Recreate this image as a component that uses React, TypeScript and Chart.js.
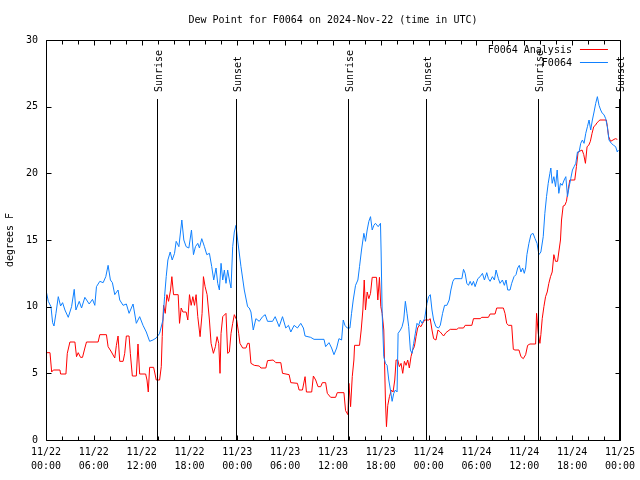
import React, { useEffect, useRef } from "react";
import { Chart, registerables } from "chart.js";

Chart.register(...registerables);

const TITLE = "Dew Point for F0064 on 2024-Nov-22 (time in UTC)";
const Y_TITLE = "degrees F";
const SERIES_NAMES = ["F0064 Analysis", "F0064"];
const SERIES_COLORS = ["#ff0000", "#0f80ff"];

const DATE_LABELS = ["11/22", "11/22", "11/22", "11/22", "11/23", "11/23", "11/23", "11/23", "11/24", "11/24", "11/24", "11/24", "11/25"];
const TIME_LABELS = ["00:00", "06:00", "12:00", "18:00", "00:00", "06:00", "12:00", "18:00", "00:00", "06:00", "12:00", "18:00", "00:00"];

const SUN_HOURS = [13.9, 23.83, 37.9, 47.7, 61.75, 71.83];
const SUN_LABELS = ["Sunrise", "Sunset", "Sunrise", "Sunset", "Sunrise", "Sunset"];

// hours since 11/22 00:00 UTC
const ANALYSIS_HOURS = [
  0, 0.5, 0.71, 0.92, 1.75, 1.83, 2.5, 2.67, 3, 3.625, 3.83, 4.04, 4.33, 4.58, 4.875, 5.08, 6.54, 6.75, 7.58, 7.79,
  8.21, 8.625, 8.83, 9.04, 9.25, 9.67, 9.875, 10.08, 10.42, 10.58, 10.83, 11.33, 11.54, 11.75, 12.5, 12.67, 12.83, 13, 13.5, 13.625,
  13.83, 14.25, 14.46, 14.58, 14.75, 14.96, 15.17, 15.375, 15.625, 15.79, 16, 16.58, 16.75, 16.96, 17.17, 17.58, 17.79, 18, 18.21, 18.42,
  18.625, 18.83, 19.04, 19.33, 19.58, 19.75, 19.96, 20.21, 20.5, 20.71, 21, 21.25, 21.46, 21.67, 21.83, 21.96, 22.17, 22.58, 22.79, 23,
  23.21, 23.42, 23.625, 23.92, 24.17, 24.33, 24.67, 25.08, 25.29, 25.5, 25.71, 26.125, 26.75, 26.96, 27.58, 27.79, 28.5, 28.83, 29.46, 29.67,
  30.5, 30.71, 31.54, 31.75, 32.17, 32.5, 32.67, 33.33, 33.54, 33.83, 34.125, 34.46, 34.67, 35.08, 35.29, 35.71, 36.33, 36.54, 37.375, 37.58,
  37.875, 38, 38.21, 38.42, 38.625, 38.71, 39.33, 39.54, 39.75, 39.92, 40.08, 40.29, 40.5, 40.71, 40.92, 41.46, 41.625, 41.83, 42, 42.17,
  42.375, 42.58, 42.71, 42.875, 43.08, 43.33, 43.54, 43.75, 43.92, 44.125, 44.33, 44.54, 44.75, 44.96, 45.17, 45.375, 45.58, 45.79, 46, 46.21,
  46.42, 46.625, 46.83, 47.04, 47.25, 47.5, 48, 48.2, 48.42, 48.625, 48.92, 49.17, 49.46, 49.875, 50.17, 50.71, 51.54, 51.75, 52.375, 52.58,
  53.42, 53.625, 54.46, 54.67, 55.5, 55.71, 56.33, 56.54, 57.375, 57.58, 57.79, 58, 58.42, 58.625, 58.83, 59.33, 59.58, 59.875, 60.17, 60.42,
  60.71, 61.42, 61.54, 61.75, 61.96, 62.08, 62.25, 62.46, 62.67, 62.875, 63.08, 63.29, 63.5, 63.71, 63.92, 64.17, 64.33, 64.54, 64.67, 64.875,
  65.08, 65.29, 65.5, 65.71, 66.33, 66.54, 66.75, 67.25, 67.46, 67.67, 67.875, 68.08, 68.29, 68.5, 68.71, 68.92, 69.125, 69.33, 69.46, 70.29,
  70.42, 70.58, 70.83, 71.125, 71.42, 71.67,
];
const ANALYSIS_VALUES = [
  6.55, 6.55, 5.1, 5.25, 5.25, 4.95, 4.95, 6.5, 7.35, 7.35, 6.25, 6.55, 6.2, 6.2, 6.9, 7.35, 7.35, 7.9, 7.9, 7.0,
  6.6, 6.15, 7.1, 7.8, 5.9, 5.9, 6.5, 7.8, 7.8, 6.5, 4.8, 4.8, 7.2, 4.95, 4.95, 4.5, 3.6, 5.45, 5.45, 5.1,
  4.5, 4.5, 5.5, 7.75, 10.1, 9.5, 10.9, 10.4, 11.25, 12.25, 10.9, 10.9, 8.75, 9.9, 9.6, 9.6, 9.0, 10.9, 10.1, 10.75,
  10.1, 10.9, 9.25, 7.75, 9.5, 12.25, 11.5, 10.9, 9.0, 7.25, 6.5, 7.0, 7.75, 7.25, 5.0, 8.0, 9.25, 9.5, 6.5, 6.6,
  8.0, 8.75, 9.4, 9.0, 8.0, 7.25, 6.9, 6.9, 7.25, 7.25, 5.75, 5.6, 5.55, 5.4, 5.4, 5.95, 6.0, 5.8, 5.8, 5.0,
  4.9, 4.3, 4.25, 3.75, 3.75, 4.75, 3.6, 3.6, 4.8, 4.5, 4.0, 4.0, 4.3, 4.3, 3.5, 3.2, 3.2, 3.55, 3.55, 2.2,
  1.9, 4.25, 2.5, 4.75, 6.0, 7.1, 7.1, 8.25, 9.75, 12.0, 9.75, 11.1, 10.6, 11.0, 12.2, 12.2, 10.5, 12.2, 10.0, 9.5,
  8.25, 3.0, 1.0, 2.6, 3.25, 3.75, 3.6, 4.5, 6.0, 6.0, 5.5, 5.75, 5.0, 5.9, 5.6, 6.0, 5.4, 6.25, 6.75, 7.0,
  7.75, 8.4, 8.6, 8.5, 8.75, 9.0, 9.0, 9.1, 8.25, 7.6, 7.5, 8.25, 8.1, 7.8, 8.05, 8.3, 8.3, 8.4, 8.4, 8.6,
  8.6, 9.1, 9.1, 9.2, 9.2, 9.45, 9.45, 9.9, 9.9, 9.5, 8.75, 8.6, 8.6, 6.8, 6.75, 6.75, 6.25, 6.1, 6.4, 7.1,
  7.2, 7.2, 9.5, 8.0, 7.25, 7.9, 9.1, 10.0, 10.75, 11.1, 11.75, 12.25, 12.6, 13.9, 13.4, 13.4, 14.1, 15.0, 16.5, 17.55,
  17.6, 17.9, 18.75, 19.5, 19.5, 20.5, 21.6, 21.75, 21.4, 20.75, 22.0, 22.1, 22.4, 23.0, 23.5, 23.6, 23.8, 23.9, 24.0, 24.0,
  23.5, 22.75, 22.4, 22.5, 22.6, 22.55,
];

const OBS_HOURS = [
  0, 0.29, 0.625, 0.83, 1, 1.25, 1.54, 1.83, 2.08, 2.375, 2.79, 3.21, 3.54, 3.75, 4.17, 4.46, 4.875, 5.42, 5.83, 6.125,
  6.33, 6.75, 7.17, 7.5, 7.79, 8.08, 8.33, 8.625, 9.04, 9.25, 9.67, 10.08, 10.42, 10.92, 11.33, 11.75, 12.17, 12.58, 13, 13.42,
  13.83, 14.25, 14.67, 14.875, 15.08, 15.29, 15.58, 15.83, 16.125, 16.33, 16.67, 17.04, 17.29, 17.58, 17.92, 18.25, 18.5, 18.75, 19.04, 19.25,
  19.54, 19.875, 20.17, 20.5, 20.79, 21.04, 21.33, 21.54, 21.75, 21.96, 22.17, 22.375, 22.58, 22.79, 23, 23.21, 23.42, 23.625, 23.83, 24.04,
  24.46, 24.875, 25.29, 25.5, 25.71, 26, 26.33, 26.75, 27.17, 27.5, 27.79, 28.42, 28.75, 29.25, 29.67, 30.08, 30.42, 30.71, 31.125, 31.54,
  31.96, 32.29, 32.5, 33.2, 33.625, 34.875, 35.08, 35.5, 35.83, 36.125, 36.46, 36.75, 37.08, 37.29, 37.5, 37.79, 38.125, 38.33, 38.54, 38.83,
  39.125, 39.33, 39.58, 39.875, 40.08, 40.29, 40.5, 40.71, 40.92, 41.125, 41.33, 41.67, 41.96, 42.04, 42.17, 42.375, 42.58, 42.79, 43, 43.21,
  43.42, 43.625, 43.83, 44.04, 44.17, 44.46, 44.67, 44.875, 45.08, 45.29, 45.5, 45.71, 45.92, 46.125, 46.33, 46.54, 46.75, 46.96, 47.17, 47.5,
  47.79, 48, 48.21, 48.42, 48.625, 48.92, 49.25, 49.46, 49.75, 50, 50.29, 50.58, 50.79, 51.04, 51.25, 51.96, 52.17, 52.375, 52.58, 52.79,
  53, 53.21, 53.42, 53.625, 53.83, 54.17, 54.46, 54.75, 55, 55.29, 55.5, 55.71, 56, 56.25, 56.46, 56.75, 56.96, 57.25, 57.5, 57.71,
  57.92, 58.21, 58.42, 58.71, 58.96, 59.17, 59.375, 59.58, 59.79, 60, 60.17, 60.33, 60.58, 60.83, 61.1, 61.35, 61.6, 61.83, 62.08, 62.375,
  62.58, 62.79, 63, 63.21, 63.33, 63.5, 63.71, 63.92, 64.125, 64.33, 64.54, 64.75, 65, 65.21, 65.42, 65.625, 65.83, 66.04, 66.25, 66.46,
  66.67, 66.875, 67.08, 67.29, 67.5, 67.71, 67.92, 68.125, 68.33, 68.54, 68.75, 68.96, 69.17, 69.375, 69.58, 69.79, 70, 70.21, 70.42, 70.625,
  70.92, 71.21, 71.46, 71.67, 71.8,
];
const OBS_VALUES = [
  11.25, 10.4, 10.0, 8.8, 8.55, 9.5, 10.75, 10.05, 10.3, 9.75, 9.2, 10.0, 11.3, 9.75, 10.4, 9.9, 10.7, 10.2, 10.55, 10.1,
  11.5, 11.9, 11.8, 12.25, 13.1, 12.0, 11.8, 10.9, 11.25, 10.5, 10.1, 10.2, 9.5, 10.2, 8.75, 9.25, 8.6, 8.1, 7.4, 7.5,
  7.65, 8.0, 9.0, 10.75, 12.25, 13.5, 14.1, 13.5, 14.0, 14.9, 14.5, 16.5, 15.0, 14.5, 14.4, 15.75, 13.9, 14.5, 14.75, 14.4,
  15.1, 14.5, 13.9, 14.0, 13.0, 12.0, 12.9, 11.75, 11.25, 13.25, 12.0, 12.75, 11.75, 12.75, 12.0, 11.4, 14.5, 15.6, 16.1, 15.0,
  13.0, 11.25, 10.0, 9.9, 9.6, 8.25, 9.1, 8.9, 9.25, 9.4, 8.9, 8.9, 9.25, 8.5, 9.25, 8.4, 8.6, 8.1, 8.6, 8.4,
  8.75, 8.4, 7.8, 7.7, 7.55, 7.55, 7.0, 7.3, 6.9, 6.4, 6.9, 7.6, 7.5, 9.0, 8.6, 8.4, 8.4, 9.5, 10.5, 11.6,
  12.0, 13.0, 14.25, 15.5, 14.9, 15.75, 16.4, 16.75, 15.75, 16.1, 16.25, 16.0, 16.25, 14.1, 9.5, 6.25, 5.75, 5.6, 4.5, 3.75,
  2.9, 3.5, 3.75, 3.6, 8.0, 8.25, 8.5, 9.0, 10.4, 9.5, 8.5, 6.75, 6.5, 7.25, 8.0, 8.75, 8.6, 9.0, 8.75, 9.1,
  10.25, 10.75, 10.9, 9.75, 9.0, 8.5, 8.4, 8.6, 9.5, 10.1, 10.1, 10.5, 11.25, 11.9, 12.1, 12.1, 12.1, 12.8, 12.5, 11.75,
  11.6, 11.9, 11.6, 11.9, 11.5, 12.1, 12.25, 12.5, 12.0, 12.55, 12.1, 11.9, 12.25, 12.0, 12.75, 12.1, 11.75, 12.0, 11.6, 12.0,
  11.25, 11.25, 11.75, 12.25, 12.4, 12.9, 13.1, 12.6, 12.9, 12.5, 12.9, 13.9, 14.75, 15.4, 15.5, 15.1, 14.75, 13.9, 14.1, 15.25,
  17.0, 18.25, 19.25, 20.0, 20.4, 19.25, 19.75, 19.0, 20.25, 18.5, 19.25, 19.1, 19.5, 19.75, 18.25, 19.0, 19.6, 20.25, 20.5, 20.75,
  21.6, 21.6, 22.25, 22.5, 22.25, 23.0, 23.5, 24.0, 23.25, 24.0, 24.6, 25.25, 25.75, 25.1, 24.75, 24.5, 24.4, 24.1, 23.5, 22.5,
  22.25, 22.1, 22.0, 21.6, 21.75,
];

const FONT_FAMILY = "'DejaVu Sans Mono', 'Liberation Mono', monospace";
const FONT = "10px " + FONT_FAMILY;

const decorPlugin = {
  id: "gnuplotDecor",
  afterDatasetsDraw(chart: any) {
    const { ctx, chartArea: a, scales } = chart;
    const xs = scales.x;
    const ys = scales.y;
    ctx.save();
    ctx.strokeStyle = "#000";
    ctx.fillStyle = "#000";
    ctx.lineWidth = 1;
    ctx.font = FONT;

    // sunrise / sunset markers
    SUN_HOURS.forEach((h, i) => {
      const px = Math.round(xs.getPixelForValue(h)) + 0.5;
      ctx.beginPath();
      ctx.moveTo(px, a.top + 59);
      ctx.lineTo(px, a.bottom);
      ctx.stroke();
      ctx.save();
      ctx.translate(px + 2, a.top + 52);
      ctx.rotate(-Math.PI / 2);
      ctx.textAlign = "left";
      ctx.textBaseline = "middle";
      ctx.fillText(SUN_LABELS[i], 0, 0);
      ctx.restore();
    });

    // frame
    const L = Math.round(a.left) + 0.5;
    const R = Math.round(a.right) + 0.5;
    const T = Math.round(a.top) + 0.5;
    const B = Math.round(a.bottom) + 0.5;
    ctx.beginPath();
    ctx.rect(L, T, R - L, B - T);
    ctx.stroke();

    // y ticks (mirrored)
    ctx.beginPath();
    ys.ticks.forEach((t: any) => {
      const py = Math.round(ys.getPixelForValue(t.value)) + 0.5;
      ctx.moveTo(L, py);
      ctx.lineTo(L + 5, py);
      ctx.moveTo(R, py);
      ctx.lineTo(R - 5, py);
    });
    // x ticks every 2 hours (mirrored)
    for (let h = 0; h <= xs.max; h += 2) {
      const px = Math.round(xs.getPixelForValue(h)) + 0.5;
      const len = h % 6 === 0 ? 5 : 4;
      ctx.moveTo(px, B);
      ctx.lineTo(px, B - len);
      ctx.moveTo(px, T);
      ctx.lineTo(px, T + len);
    }
    ctx.stroke();
    ctx.restore();
  },
  afterDraw(chart: any) {
    const { ctx, chartArea: a } = chart;
    ctx.save();
    ctx.fillStyle = "#000";
    ctx.font = FONT;
    // title
    ctx.textAlign = "center";
    ctx.textBaseline = "middle";
    ctx.fillText(TITLE, (a.left + a.right) / 2, 20);
    // y axis title
    ctx.save();
    ctx.translate(10, (a.top + a.bottom) / 2);
    ctx.rotate(-Math.PI / 2);
    ctx.fillText(Y_TITLE, 0, 0);
    ctx.restore();
    // legend
    ctx.textAlign = "right";
    SERIES_NAMES.forEach((name, i) => {
      const y = a.top + 10 + i * 13;
      ctx.fillStyle = "#000";
      ctx.fillText(name, a.right - 48, y);
      ctx.strokeStyle = SERIES_COLORS[i];
      ctx.lineWidth = 1;
      ctx.beginPath();
      ctx.moveTo(a.right - 40, Math.round(y) - 0.5);
      ctx.lineTo(a.right - 12, Math.round(y) - 0.5);
      ctx.stroke();
    });
    ctx.restore();
  },
};

export default function App() {
  const canvasRef = useRef<HTMLCanvasElement | null>(null);

  useEffect(() => {
    const canvas = canvasRef.current;
    if (!canvas) return;
    const analysis = ANALYSIS_HOURS.map((h, i) => ({ x: h, y: ANALYSIS_VALUES[i] }));
    const obs = OBS_HOURS.map((h, i) => ({ x: h, y: OBS_VALUES[i] }));
    const chart = new Chart(canvas, {
      type: "line",
      data: {
        datasets: [
          {
            label: SERIES_NAMES[0],
            data: analysis,
            borderColor: SERIES_COLORS[0],
            backgroundColor: SERIES_COLORS[0],
            borderWidth: 1,
            pointRadius: 0,
            tension: 0,
            fill: false,
            order: 2,
          },
          {
            label: SERIES_NAMES[1],
            data: obs,
            borderColor: SERIES_COLORS[1],
            backgroundColor: SERIES_COLORS[1],
            borderWidth: 1,
            pointRadius: 0,
            tension: 0,
            fill: false,
            order: 1,
          },
        ],
      },
      options: {
        animation: false,
        responsive: false,
        maintainAspectRatio: false,
        layout: { padding: { top: 40, right: 18, left: 0, bottom: 0 } },
        plugins: {
          legend: { display: false },
          title: { display: false },
          tooltip: { enabled: false },
        },
        scales: {
          x: {
            type: "linear",
            min: 0,
            max: 72,
            grid: { display: false, drawTicks: false },
            border: { display: false },
            ticks: {
              stepSize: 6,
              autoSkip: false,
              maxRotation: 0,
              minRotation: 0,
              padding: 5,
              color: "#000",
              font: { family: FONT_FAMILY, size: 10, lineHeight: 1.4 },
              callback: (_v: any, i: number) => [DATE_LABELS[i], TIME_LABELS[i]],
            },
            afterFit: (s: any) => {
              s.height = 40;
            },
          },
          y: {
            min: 0,
            max: 30,
            grid: { display: false, drawTicks: false },
            border: { display: false },
            ticks: {
              stepSize: 5,
              padding: 8,
              color: "#000",
              font: { family: FONT_FAMILY, size: 10 },
            },
            afterFit: (s: any) => {
              s.width = 46;
            },
          },
        },
      } as any,
      plugins: [decorPlugin],
    });
    return () => chart.destroy();
  }, []);

  return (
    <div style={{ position: "absolute", left: 0, top: 0, width: 640, height: 480, background: "#fff" }}>
      <canvas ref={canvasRef} width={640} height={480} style={{ display: "block" }} />
    </div>
  );
}
